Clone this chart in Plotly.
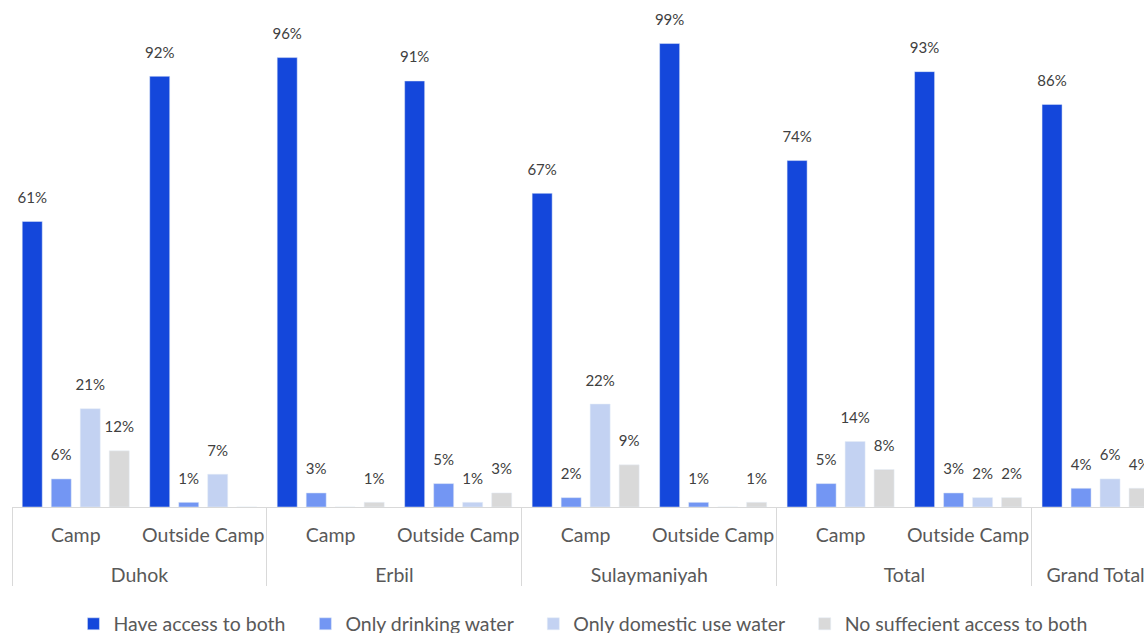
import plotly.graph_objects as go

regions = ["Duhok", "Duhok", "Erbil", "Erbil", "Sulaymaniyah", "Sulaymaniyah",
           "Total", "Total", "Grand Total"]
locations = ["Camp", "Outside Camp", "Camp", "Outside Camp", "Camp", "Outside Camp",
             "Camp", "Outside Camp", " "]

series_names = ["Have access to both", "Only drinking water",
                "Only domestic use water", "No suffecient access to both"]
have_both = [61, 92, 96, 91, 67, 99, 74, 93, 86]
only_drinking = [6, 1, 3, 5, 2, 1, 5, 3, 4]
only_domestic = [21, 7, 0, 1, 22, 0, 14, 2, 6]
no_access = [12, 0, 1, 3, 9, 1, 8, 2, 4]

colors = ["#1447DB", "#7396F3", "#C3D2F2", "#D9D9D9"]
all_series = [have_both, only_drinking, only_domestic, no_access]

FONT = "Lato"
# top-level labels get a leading blank line to open the gap between the two label rows
x = [["<br>" + r for r in regions], locations]

fig = go.Figure()
for i, (name, vals, col) in enumerate(zip(series_names, all_series, colors)):
    fig.add_trace(go.Bar(
        x=x, y=vals, name=name + "\u00a0\u00a0\u00a0", marker_color=col,
        offsetgroup=str(i), hoverinfo="skip",
    ))
for i, vals in enumerate(all_series):
    fig.add_trace(go.Scatter(
        x=x, y=vals, mode="markers+text", offsetgroup=str(i), orientation="v",
        text=[f"{v}%" if v > 0 else "" for v in vals],
        textposition="top center",
        textfont=dict(family=FONT, size=15, color="#404040"),
        marker=dict(size=22, opacity=0),
        showlegend=False, hoverinfo="skip", cliponaxis=True,
    ))

fig.update_layout(
    width=1144, height=633,
    margin=dict(l=12, r=0, t=0, b=126, autoexpand=False),
    barmode="group", bargap=0.09, bargroupgap=0.31,
    scattermode="group", scattergap=0.09,
    plot_bgcolor="white", paper_bgcolor="white",
    font=dict(family=FONT, size=19, color="#595959"),
    showlegend=True,
    legend=dict(orientation="h", x=0.511, xanchor="center", y=-0.231, yanchor="middle",
                font=dict(family=FONT, size=19.5, color="#595959")),
    xaxis=dict(
        type="multicategory", range=[-0.5, 8.38], automargin=False, tickangle=0,
        showline=True, linecolor="#D9D9D9", linewidth=1,
        showdividers=True, dividercolor="#D9D9D9", dividerwidth=1,
        tickfont=dict(family=FONT, size=19.5, color="#595959"),
        ticks="", ticklabelstandoff=11, showgrid=False,
    ),
    yaxis=dict(range=[0, 108.3], visible=False, showgrid=False, automargin=False),
)

fig.write_html("out.html", config={"displayModeBar": False},
               post_script="document.body.style.margin='0';")
